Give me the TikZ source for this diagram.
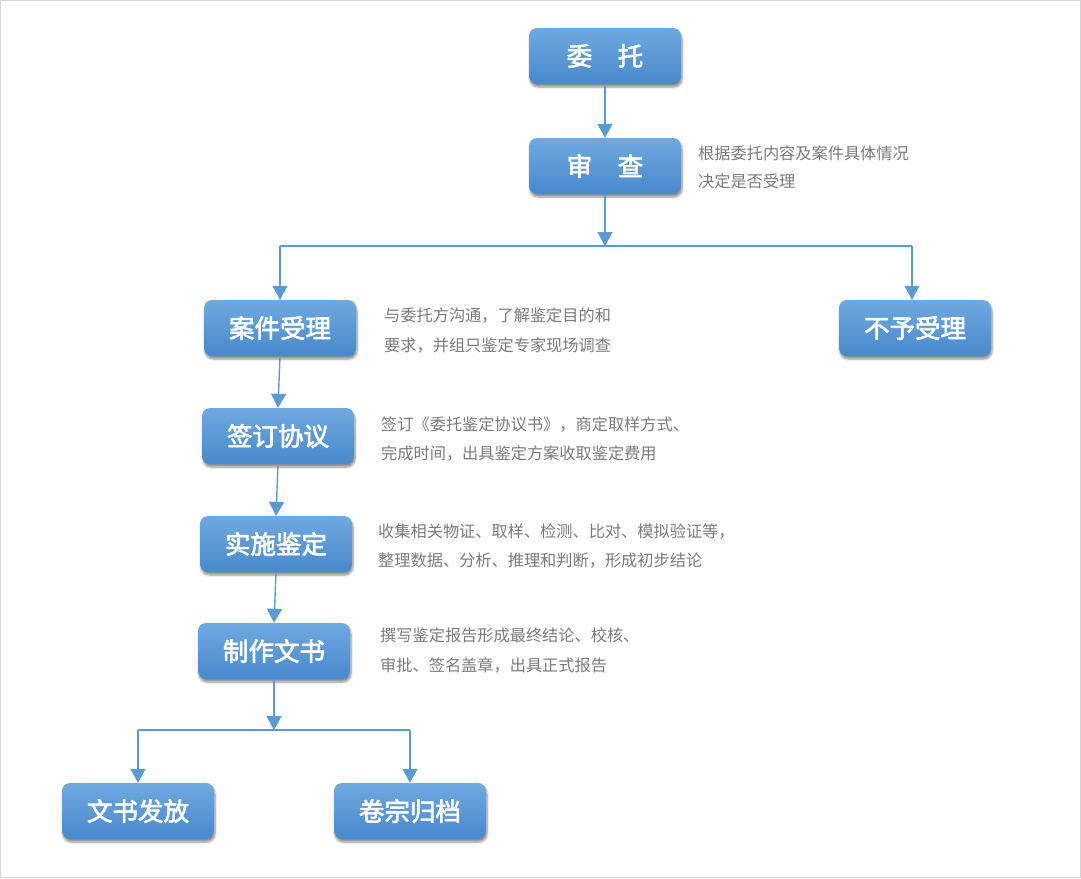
\documentclass[tikz,border=0pt]{standalone}
\usepackage{fontspec}
\setmainfont{Noto Sans CJK SC}
\newfontfamily\boxfont[FakeBold=2.6]{Noto Sans CJK SC}
\usetikzlibrary{arrows.meta,shadows.blur}
\definecolor{linec}{HTML}{5B9BD5}
\definecolor{boxtop}{HTML}{6FA9DF}
\definecolor{boxbot}{HTML}{4889CC}
\definecolor{notec}{HTML}{7A7A7A}
\definecolor{framec}{HTML}{D4D4D4}
\begin{document}
\begin{tikzpicture}[x=1pt,y=-1pt,
  box/.style={rounded corners=8pt, minimum width=152pt, minimum height=56pt,
    top color=boxtop, bottom color=boxbot, draw=none, text=white,
    font=\boxfont\fontsize{25.5}{30}\selectfont, inner sep=0pt,
    blur shadow={shadow xshift=1pt, shadow yshift=-3pt, shadow blur steps=6, shadow opacity=45}},
  note/.style={anchor=west, text=notec, font=\fontsize{16.2}{19}\selectfont, inner sep=0pt},
  conn/.style={draw=linec, line width=1.4pt},
  arr/.style={conn, -{Triangle[length=14pt,width=15pt]}}]
\useasboundingbox (0,0) rectangle (1081,878);
\draw[framec, line width=1pt] (0.5,0.5) rectangle (1080.5,877.5);

\node[box] (wt) at (605,56) {委\hspace{1em}托};
\node[box] (sc) at (605,166) {审\hspace{1em}查};
\node[box] (aj) at (280,328) {案件受理};
\node[box] (by) at (915,328) {不予受理};
\node[box] (qd) at (278,436) {签订协议};
\node[box] (ss) at (276,544) {实施鉴定};
\node[box] (zz) at (274,651) {制作文书};
\node[box] (wf) at (138,811) {文书发放};
\node[box] (jz) at (410,811) {卷宗归档};

\coordinate (j1) at (605,246);
\coordinate (j1l) at (280,246);
\coordinate (j1r) at (912,246);
\coordinate (j2) at (274,730);
\coordinate (j2l) at (138,730);
\coordinate (j2r) at (410,730);

\draw[arr] (wt.south) -- (sc.north);
\draw[arr] (sc.south) -- (j1);
\draw[conn] (j1l) -- (j1r);
\draw[arr] (j1l) -- (aj.north);
\draw[arr] (j1r) -- (by.north -| j1r);
\draw[arr] (aj.south) -- (qd.north);
\draw[arr] (qd.south) -- (ss.north);
\draw[arr] (ss.south) -- (zz.north);
\draw[arr] (zz.south) -- (j2);
\draw[conn] (j2l) -- (j2r);
\draw[arr] (j2l) -- (wf.north);
\draw[arr] (j2r) -- (jz.north);

\node[note] (n1a) at (698,153) {根据委托内容及案件具体情况};
\node[note] (n1b) at (698,181) {决定是否受理};
\node[note] (n2a) at (384,316) {与委托方沟通，了解鉴定目的和};
\node[note] (n2b) at (384,346) {要求，并组只鉴定专家现场调查};
\node[note] (n3a) at (381,424) {签订《委托鉴定协议书》，商定取样方式、};
\node[note] (n3b) at (381,453) {完成时间，出具鉴定方案收取鉴定费用};
\node[note] (n4a) at (378,531) {收集相关物证、取样、检测、比对、模拟验证等，};
\node[note] (n4b) at (378,561) {整理数据、分析、推理和判断，形成初步结论};
\node[note] (n5a) at (380,635) {撰写鉴定报告形成最终结论、校核、};
\node[note] (n5b) at (380,665) {审批、签名盖章，出具正式报告};
\end{tikzpicture}
\end{document}
